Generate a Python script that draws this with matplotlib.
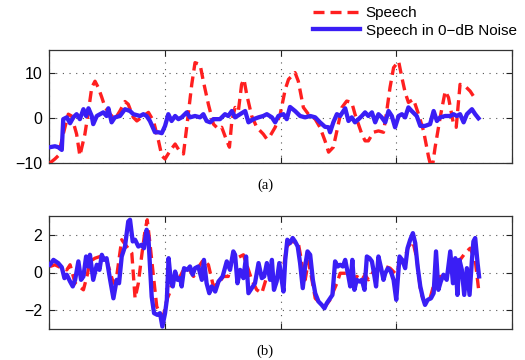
import matplotlib
matplotlib.use("Agg")
import matplotlib.pyplot as plt
from matplotlib.lines import Line2D

# traced (sample, value) pairs
speech_a = [(0.3, -10.0), (2.0, -9.1), (3.1, -8.4), (4.8, -3.6), (6.5, 0.8), (7.6, 0.4), (9.3, -3.6),
            (10.4, -8.4), (12.1, -3.6), (13.3, 1.5), (14.4, 6.7), (15.5, 8.1), (16.6, 6.7), (17.8, 4.5),
            (18.9, 2.3), (20.6, 0.8), (22.2, -0.3), (23.9, 1.5), (25.6, 3.6), (26.7, 3.0), (28.4, 0.1),
            (29.6, -0.7), (31.8, 0.4), (33.5, 1.2), (35.2, -0.7), (36.9, -5.1), (38.0, -8.4), (39.1, -9.1),
            (40.8, -7.3), (42.5, -5.8), (44.2, -7.6), (45.3, -8.0), (46.4, -2.1), (48.1, 7.4), (49.2, 12.2),
            (50.9, 11.8), (52.0, 8.1), (53.7, 3.0), (55.4, -1.4), (57.1, -2.5), (58.2, -2.1), (59.9, -5.1),
            (60.8, -6.5), (61.6, -0.7), (62.7, 2.3), (63.8, 1.5), (64.9, 7.4), (65.7, 8.5), (66.6, 5.2),
            (68.3, 0.4), (70.0, -2.1), (72.2, -3.6), (73.4, -4.7), (74.5, -4.0), (76.2, -2.1), (77.9, 0.8),
            (79.6, 6.3), (80.7, 8.5), (82.9, 10.0), (84.0, 8.1), (85.7, 2.3), (87.4, 0.8), (89.7, -0.3),
            (91.3, -2.1), (93.0, -5.1), (94.2, -7.6), (95.8, -6.5), (97.0, -2.9), (98.7, 2.3), (100.3, 3.7),
            (102.0, 3.4), (103.1, 0.8), (105.4, -3.6), (106.5, -5.1), (107.6, -5.1), (109.3, -3.2),
            (111.0, -2.9), (112.7, -3.2), (113.8, 1.5), (114.9, 6.7), (116.1, 11.1), (117.8, 12.5),
            (118.9, 8.9), (120.0, 5.6), (121.1, 3.4), (122.8, 4.1), (124.5, 0.8), (126.2, -2.9),
            (127.9, -8.7), (129.0, -11.6), (130.1, -6.5), (131.8, 0.1), (133.5, 5.9), (134.6, 4.5),
            (136.3, -1.4), (137.2, -2.1), (138.5, 7.4), (140.2, 7.0), (141.9, 5.9), (143.3, 4.5)]

noisy_a = [(0.3, -6.5), (2.0, -6.3), (3.1, -6.5), (4.3, -7.1), (4.8, -0.3), (6.0, 0.1), (7.1, -1.2),
           (8.2, 0.1), (9.3, 0.8), (10.4, -0.3), (11.6, 1.9), (12.5, 0.4), (13.3, 2.1), (14.4, 0.4),
           (14.9, -1.4), (16.1, 0.4), (17.2, 0.8), (18.3, 1.2), (19.4, 0.4), (20.0, 2.1), (21.1, -1.0),
           (22.2, 0.1), (23.9, 0.4), (25.6, 1.9), (27.3, 1.5), (28.4, 0.8), (30.7, 0.4), (31.8, 0.8),
           (32.9, 0.4), (34.0, -0.7), (35.7, -3.2), (36.9, -3.2), (38.0, -3.4), (39.1, -1.8), (40.2, 0.8),
           (41.3, -0.7), (42.5, 0.4), (43.6, -0.3), (44.7, 0.1), (46.4, 1.2), (47.5, 0.1), (49.2, 0.4),
           (50.9, 0.1), (52.0, 0.8), (53.1, -0.7), (54.3, -1.0), (55.4, -0.3), (57.6, -0.3), (59.3, 0.8),
           (60.4, 0.4), (61.6, 1.5), (62.7, 0.1), (64.4, 0.8), (66.1, 1.5), (67.2, -1.0), (68.9, -0.3),
           (70.6, 0.1), (72.2, 0.4), (73.4, 0.8), (75.1, 0.1), (76.2, -1.0), (77.3, 0.4), (79.0, 0.8),
           (80.1, -0.3), (81.2, 2.4), (82.9, 1.5), (84.6, 0.4), (86.3, 0.1), (88.0, 0.4), (89.7, 0.1),
           (91.3, -1.0), (93.0, -2.0), (94.2, -2.1), (94.7, -3.2), (95.8, -1.0), (97.0, 0.8), (98.1, 0.4),
           (99.8, 2.1), (100.9, -0.7), (102.0, 0.1), (103.1, -1.0), (104.3, -0.3), (105.4, 0.4),
           (106.5, 1.2), (107.6, 0.4), (108.8, 1.2), (109.9, -1.0), (111.0, 0.8), (112.1, 0.1),
           (113.3, -1.0), (114.4, 1.5), (115.5, 0.4), (116.6, -2.1), (117.8, 0.4), (118.9, 0.8),
           (120.0, 0.1), (121.1, 2.3), (122.2, 1.5), (123.9, 0.4), (125.1, -1.8), (126.7, -1.8),
           (128.4, -1.4), (129.6, 1.5), (130.7, -0.7), (131.8, 0.1), (133.5, 0.4), (135.2, 0.4),
           (136.3, 0.8), (137.4, 0.4), (138.5, 0.8), (139.7, -1.0), (140.8, 0.8), (142.5, 1.9),
           (143.6, 0.8), (144.7, -0.1)]

speech_b = [(0.3, 0.32), (2.0, 0.41), (4.3, 0.23), (6.0, 0.14), (7.1, 0.41), (8.8, -0.57), (11.6, -0.92),
            (12.9, -0.12), (13.8, 0.59), (15.5, 0.76), (17.2, 0.85), (19.4, 0.67), (21.7, -0.57),
            (22.8, -0.21), (24.5, 1.74), (26.2, 1.38), (27.9, 1.03), (29.0, -1.37), (30.1, -0.57),
            (31.2, 0.85), (32.4, 2.27), (33.1, 2.80), (34.0, 1.56), (35.2, -0.21), (36.3, -1.81),
            (37.4, -2.16), (38.5, -2.34), (39.7, -1.45), (40.6, -1.10), (41.9, -0.21), (43.6, -0.39),
            (45.3, 0.14), (47.0, 0.23), (48.7, -0.21), (50.9, 0.41), (52.0, 0.67), (53.7, 0.41),
            (55.4, -0.74), (57.1, -0.57), (58.8, -0.21), (60.4, -0.21), (61.6, 0.67), (63.3, 0.76),
            (65.5, 0.94), (67.2, 0.14), (68.3, -0.39), (70.0, -0.92), (71.7, -1.10), (73.4, -0.21),
            (75.1, -0.39), (76.7, -0.66), (78.4, -0.39), (80.1, 1.38), (81.8, 1.65), (84.0, 1.56),
            (85.2, 0.50), (86.3, -0.39), (87.4, 0.59), (88.5, -0.30), (89.7, -1.37), (91.3, -1.63),
            (93.0, -1.81), (94.7, -1.45), (95.8, -1.01), (97.0, -0.57), (98.1, -0.04), (100.3, -0.04),
            (102.0, -0.39), (103.7, -0.21), (105.4, -0.39), (106.5, -0.12), (107.6, -0.39), (109.3, 0.05),
            (111.0, 0.14), (113.3, 0.32), (114.9, 0.23), (116.6, -0.04), (118.3, 0.50), (120.0, 0.85),
            (121.1, 1.38), (122.6, 1.65), (123.9, 0.76), (125.3, -1.10), (126.7, -1.63), (128.4, -1.37),
            (130.1, -0.39), (131.8, -0.21), (133.5, -0.21), (135.2, 0.23), (136.9, 0.14), (138.5, 0.67),
            (140.2, 1.03), (141.9, 1.29), (143.6, 0.67), (144.7, -0.83)]

noisy_b = [(0.3, 0.41), (1.5, 0.67), (3.1, 0.50), (4.3, 0.28), (5.2, -0.30), (6.0, -0.12), (7.1, -0.48),
           (8.0, -0.74), (8.8, -0.39), (9.9, 0.59), (10.8, -0.39), (11.6, -0.21), (12.5, 0.85), (13.3, 0.32),
           (13.8, 0.94), (14.9, -0.39), (16.1, 0.41), (17.0, 0.14), (17.8, 0.94), (18.5, 0.67), (19.4, 0.76),
           (20.6, -0.39), (21.7, -1.37), (22.8, -0.39), (23.6, -0.57), (24.5, 0.85), (25.6, 1.38),
           (26.7, 2.71), (27.3, 2.80), (28.2, 1.65), (29.0, 1.74), (30.1, 1.38), (31.2, 1.47), (32.0, 1.29),
           (32.9, 2.27), (33.5, 1.83), (34.6, -1.28), (35.4, -2.16), (36.5, -2.25), (37.4, -2.16),
           (38.2, -2.87), (39.1, -2.16), (39.7, -1.45), (40.3, 0.76), (41.0, -0.39), (41.7, -0.74),
           (42.5, 0.05), (43.3, -0.39), (44.2, -0.30), (44.7, -0.74), (45.5, 0.23), (46.6, 0.14),
           (47.5, 0.32), (48.4, -0.12), (49.2, 0.23), (50.3, 0.32), (51.5, -0.39), (52.2, 0.67),
           (53.1, -0.57), (54.0, -1.10), (54.8, -0.74), (56.0, -1.01), (57.1, -0.48), (58.5, -0.21),
           (59.9, 0.59), (61.0, 0.14), (62.1, 1.12), (62.7, 0.94), (63.5, -0.57), (64.4, 0.14),
           (65.5, -0.30), (66.4, 0.85), (67.2, -1.10), (68.3, -0.83), (69.4, -0.57), (70.6, 0.50),
           (71.7, -0.30), (72.5, -0.21), (73.4, 0.50), (74.5, -0.39), (75.1, 0.67), (75.8, -0.92),
           (76.7, -0.48), (77.6, 0.50), (78.4, -0.39), (79.0, -1.01), (79.6, 0.67), (80.3, 1.74),
           (81.2, 1.56), (82.1, 1.83), (82.9, 1.65), (83.8, 1.38), (84.6, 0.50), (85.5, -0.83),
           (86.3, 0.32), (87.1, 1.12), (88.0, 0.94), (88.9, -0.39), (89.7, -1.10), (90.8, -1.54),
           (91.9, -1.72), (92.8, -1.90), (93.6, -1.63), (94.7, -1.37), (95.5, -1.19), (96.4, 0.59),
           (97.3, 0.32), (98.1, 0.41), (99.0, 0.32), (99.8, 0.67), (100.9, -0.21), (101.5, -0.74),
           (102.2, 0.67), (102.9, -0.92), (103.7, -0.39), (104.6, -0.48), (105.4, -0.39), (106.3, -0.92),
           (107.1, 0.85), (108.0, 0.76), (108.8, 0.59), (109.3, 0.14), (110.2, -0.74), (111.0, 0.85),
           (111.9, 0.23), (112.7, -0.39), (113.3, -0.04), (114.2, 0.23), (115.2, 0.05), (116.1, -0.39),
           (117.0, -1.45), (118.1, 0.85), (119.0, 0.67), (120.0, 0.23), (120.8, 1.29), (121.7, 1.74),
           (122.6, 2.09), (123.4, 1.56), (124.2, 0.32), (125.1, -0.74), (126.0, -1.37), (126.7, -1.72),
           (127.6, -1.45), (128.7, -1.37), (129.6, -1.10), (130.4, 1.12), (131.2, -0.92), (132.0, -0.48),
           (132.9, -0.12), (134.0, -0.39), (135.2, 1.12), (136.1, -0.57), (136.9, 0.76), (137.6, -1.19),
           (138.3, 0.67), (139.1, 0.14), (139.9, -1.19), (140.8, 0.23), (141.7, -1.19), (142.5, 0.67),
           (143.0, 1.65), (143.6, 1.83), (144.4, 0.50), (144.9, -0.21)]

labels = ['Speech', 'Speech in 0\u2212dB Noise']
red = '#ff1f1f'
blue = '#3a1ef5'

plt.rcParams['font.family'] = ['Liberation Sans', 'DejaVu Sans']

fig = plt.figure(figsize=(5.25, 3.6), dpi=100)
ax1 = fig.add_axes([49 / 525, 1 - 163 / 360, 463 / 525, 113 / 360])
ax2 = fig.add_axes([49 / 525, 1 - 329 / 360, 463 / 525, 113 / 360])


def draw(ax, speech, noisy, ylim, yticks):
    t, v = zip(*speech)
    ax.plot(t, v, color=red, lw=2.4, linestyle=(0, (3.3, 1.8)), solid_capstyle='butt', zorder=3)
    t, v = zip(*noisy)
    ax.plot(t, v, color=blue, lw=3.1, solid_joinstyle='round', zorder=4)
    ax.set_xlim(0, 156)
    ax.set_ylim(*ylim)
    ax.set_xticks([0, 39, 78, 117, 156])
    ax.set_xticklabels([])
    ax.set_yticks(yticks)
    ax.tick_params(direction='in', length=4, width=0.8, top=True, right=True,
                   labelsize=11.5, pad=5, colors='#222222', labelcolor='black')
    ax.grid(True, linestyle=(0, (1, 5)), color='#555555', lw=0.8)
    for s in ax.spines.values():
        s.set_linewidth(0.9)
        s.set_color('#333333')


draw(ax1, speech_a, noisy_a, (-10, 15), [-10, 0, 10])
draw(ax2, speech_b, noisy_b, (-3, 3), [-2, 0, 2])

handles = [Line2D([], [], color=red, lw=2.4, linestyle=(0, (3.3, 1.8))),
           Line2D([], [], color=blue, lw=3.1)]
fig.legend(handles, labels, loc='upper left', bbox_to_anchor=(313 / 525, 1 - 6 / 360),
           frameon=False, fontsize=11, handlelength=3.1, handletextpad=0.35,
           borderpad=0, borderaxespad=0, labelspacing=0.25)

fig.text(0.505, 1 - 185 / 360, '(a)', ha='center', va='center', family='Liberation Serif', fontsize=10.5)
fig.text(0.505, 1 - 351 / 360, '(b)', ha='center', va='center', family='Liberation Serif', fontsize=10.5)

fig.savefig('out.png', dpi=100)
